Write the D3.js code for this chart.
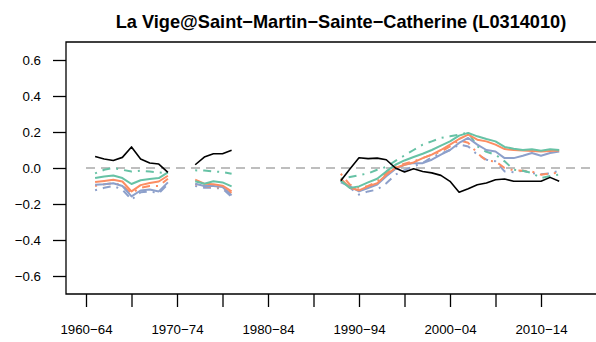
<!DOCTYPE html>
<html>
<head>
<meta charset="utf-8">
<script src="https://cdn.jsdelivr.net/npm/d3@7/dist/d3.min.js"></script>
<style>
  html, body { margin: 0; padding: 0; background: #fff; }
  svg { display: block; }
  text { font-family: "Liberation Sans", Arial, Helvetica, sans-serif; }
</style>
</head>
<body>
<svg id="chart" width="596" height="342"></svg>
<script>
// Station and period labels
const title = "La Vige@Saint\u2212Martin\u2212Sainte\u2212Catherine (L0314010)";
const tickYears = [1960, 1965, 1970, 1975, 1980, 1985, 1990, 1995, 2000, 2005, 2010];
const tickLabels = ["1960\u221264", "", "1970\u221274", "", "1980\u221284", "", "1990\u221294", "", "2000\u221204", "", "2010\u221214"];
const yTicks = [-0.6, -0.4, -0.2, 0.0, 0.2, 0.4, 0.6];

// Years of the series (null values mark gaps in the record)
const years = [
  1961, 1962, 1963, 1964, 1965, 1966, 1967, 1968, 1969,
  1970, 1971,
  1972, 1973, 1974, 1975, 1976,
  1977, 1978, 1979, 1980, 1981, 1982, 1983, 1984, 1985, 1986, 1987,
  1988, 1989, 1990, 1991, 1992, 1993, 1994, 1995, 1996, 1997, 1998, 1999,
  2000, 2001, 2002, 2003, 2004, 2005, 2006, 2007, 2008, 2009, 2010, 2011, 2012
];
const N2 = [null, null];
const N11 = [null, null, null, null, null, null, null, null, null, null, null];

const blackSeries = [
  0.064, 0.050, 0.042, 0.059, 0.117, 0.050, 0.028, 0.022, -0.024,
  ...N2,
  0.018, 0.061, 0.079, 0.079, 0.098,
  ...N11,
  -0.071, -0.005, 0.057, 0.052, 0.055, 0.046, 0.000, -0.022, -0.004, -0.019, -0.027, -0.041,
  -0.074, -0.135, -0.115, -0.093, -0.083, -0.065, -0.061, -0.074, -0.074, -0.074, -0.074, -0.052, -0.074
];
const greenSolid = [
  -0.056, -0.047, -0.042, -0.056, -0.089, -0.068, -0.061, -0.056, -0.024,
  ...N2,
  -0.074, -0.087, -0.074, -0.080, -0.102,
  ...N11,
  -0.070, -0.111, -0.102, -0.080, -0.060, -0.019, 0.018, 0.042, 0.061, 0.079, 0.100, 0.124,
  0.148, 0.180, 0.195, 0.176, 0.161, 0.148, 0.117, 0.107, 0.100, 0.104, 0.096, 0.104, 0.100
];
const orangeSolid = [
  -0.078, -0.072, -0.065, -0.075, -0.130, -0.095, -0.083, -0.075, -0.043,
  ...N2,
  -0.065, -0.087, -0.090, -0.098, -0.130,
  ...N11,
  -0.060, -0.110, -0.124, -0.102, -0.085, -0.037, 0.000, 0.018, 0.031, 0.055, 0.074, 0.100,
  0.130, 0.161, 0.185, 0.157, 0.148, 0.130, 0.105, 0.100, 0.097, 0.095, 0.092, 0.095, 0.097
];
const blueSolid = [
  -0.093, -0.090, -0.085, -0.100, -0.158, -0.125, -0.120, -0.130, -0.080,
  ...N2,
  -0.087, -0.100, -0.100, -0.105, -0.152,
  ...N11,
  -0.080, -0.102, -0.130, -0.111, -0.092, -0.046, -0.006, 0.018, 0.027, 0.027, 0.046, 0.074,
  0.100, 0.139, 0.167, 0.130, 0.100, 0.092, 0.055, 0.055, 0.068, 0.083, 0.068, 0.083, 0.092
];
const greenDashed = [
  -0.030, -0.010, 0.000, -0.010, -0.020, -0.015, -0.020, -0.025, -0.030,
  ...N2,
  -0.013, -0.014, -0.019, -0.022, -0.032,
  ...N11,
  -0.060, -0.050, -0.040, -0.030, -0.010, 0.006, 0.040, 0.070, 0.100, 0.130, 0.148, 0.167,
  0.176, 0.185, 0.198, 0.120, 0.090, 0.074, 0.037, -0.009, -0.015, -0.028, -0.056, -0.044, -0.037
];
const orangeDashed = [
  -0.100, -0.090, -0.085, -0.095, -0.140, -0.110, -0.100, -0.100, -0.060,
  ...N2,
  -0.090, -0.100, -0.105, -0.110, -0.140,
  ...N11,
  -0.032, -0.093, -0.110, -0.100, -0.075, -0.028, 0.009, 0.024, 0.037, 0.055, 0.074, 0.090,
  0.120, 0.154, 0.140, 0.083, 0.040, 0.037, 0.000, -0.013, -0.015, -0.020, -0.037, -0.031, -0.026
];
const blueDashed = [
  -0.124, -0.110, -0.100, -0.120, -0.176, -0.135, -0.130, -0.140, -0.090,
  ...N2,
  -0.100, -0.110, -0.110, -0.115, -0.160,
  ...N11,
  -0.070, -0.110, -0.148, -0.130, -0.120, -0.085, -0.037, -0.012, 0.010, 0.027, 0.061, 0.080,
  0.100, 0.130, 0.120, 0.074, 0.046, 0.037, -0.019, -0.024, -0.015, -0.028, -0.035, -0.030, -0.015
];

const green = "#66C2A5", orange = "#FC8D62", blue = "#8DA0CB";
const series = [
  { values: blueDashed, color: blue, dash: "2,6,8,6", width: 2 },
  { values: orangeDashed, color: orange, dash: "2,6,8,6", width: 2 },
  { values: greenDashed, color: green, dash: "2,6,8,6", width: 2 },
  { values: blueSolid, color: blue, dash: null, width: 2 },
  { values: orangeSolid, color: orange, dash: null, width: 2 },
  { values: greenSolid, color: green, dash: null, width: 2 },
  { values: blackSeries, color: "#000", dash: null, width: 1.6 }
];

const svg = d3.select("#chart");
const W = 596;
const plotLeft = 66, plotTop = 42, plotBottom = 294;
const tickFont = 13.3;

const x = d3.scaleLinear().domain([1960, 2010]).range([86, 541]);
const y = d3.scaleLinear().domain([-0.6, 0.6]).range([276, 60]);

// Title
svg.append("text")
  .attr("x", 341).attr("y", 28)
  .attr("text-anchor", "middle")
  .attr("font-size", 18.2).attr("font-weight", "bold")
  .text(title);

// Plot frame (left, top, bottom)
svg.append("path")
  .attr("d", `M${W},${plotTop}H${plotLeft}V${plotBottom}H${W}`)
  .attr("fill", "none").attr("stroke", "#000").attr("stroke-width", 1.3);

// Y axis
const yAxis = d3.axisLeft(y).tickValues(yTicks).tickSize(13).tickPadding(12)
  .tickFormat(d => d3.format(".1f")(d).replace("-", "\u2212"));
const gy = svg.append("g").attr("transform", `translate(${plotLeft},0)`).call(yAxis);
gy.select(".domain").remove();
gy.selectAll(".tick line").attr("stroke", "#000").attr("stroke-width", 1.3);
gy.selectAll(".tick text").attr("font-size", tickFont).attr("fill", "#000")
  .attr("font-family", "Liberation Sans, Arial, sans-serif");

// X axis
const xAxis = d3.axisBottom(x).tickValues(tickYears).tickSize(13).tickPadding(18)
  .tickFormat((d, i) => tickLabels[i]);
const gx = svg.append("g").attr("transform", `translate(0,${plotBottom})`).call(xAxis);
gx.select(".domain").remove();
gx.selectAll(".tick line").attr("stroke", "#000").attr("stroke-width", 1.3);
gx.selectAll(".tick text").attr("font-size", tickFont).attr("fill", "#000")
  .attr("font-family", "Liberation Sans, Arial, sans-serif");

// Zero reference line
svg.append("line")
  .attr("x1", x(1960)).attr("x2", W)
  .attr("y1", y(0)).attr("y2", y(0))
  .attr("stroke", "#BEBEBE").attr("stroke-width", 2)
  .attr("stroke-dasharray", "9,6");

// Series lines
const line = d3.line()
  .defined(d => d[1] !== null)
  .x(d => x(d[0]))
  .y(d => y(d[1]));

series.forEach(s => {
  svg.append("path")
    .datum(years.map((yr, i) => [yr, s.values[i]]))
    .attr("d", line)
    .attr("fill", "none")
    .attr("stroke", s.color)
    .attr("stroke-width", s.width)
    .attr("stroke-linejoin", "round")
    .attr("stroke-dasharray", s.dash);
});
</script>
</body>
</html>
